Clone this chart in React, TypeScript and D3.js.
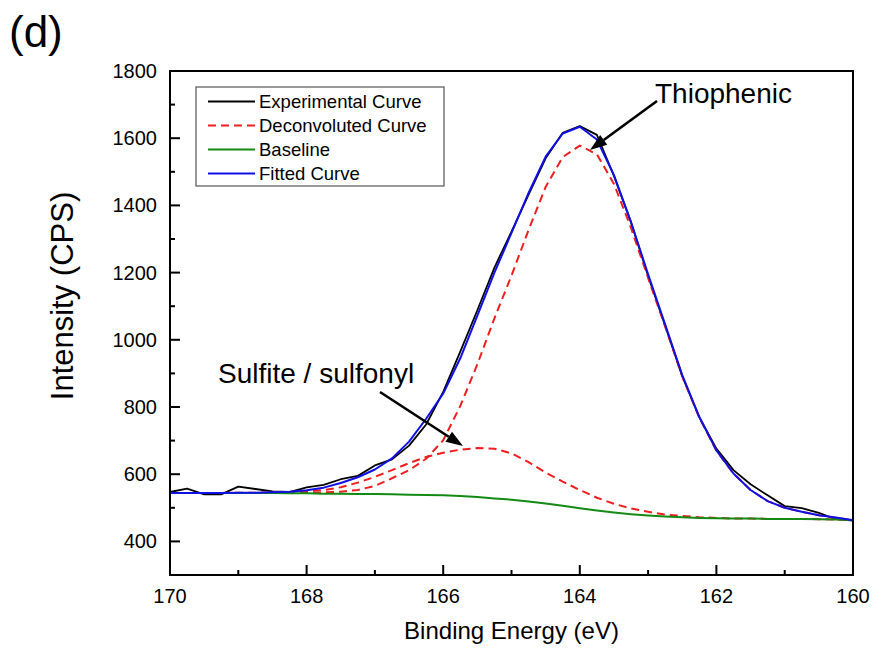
import React from "react";
import * as d3 from "d3";

const energy = [170, 169.75, 169.5, 169.25, 169, 168.75, 168.5, 168.25, 168, 167.75, 167.5, 167.25, 167, 166.75, 166.5, 166.25, 166, 165.75, 165.5, 165.25, 165, 164.75, 164.5, 164.25, 164, 163.75, 163.5, 163.25, 163, 162.75, 162.5, 162.25, 162, 161.75, 161.5, 161.25, 161, 160.75, 160.5, 160.25, 160];

const experimental = [547, 557, 540, 540, 563, 556, 549, 547, 561, 568, 585, 595, 626, 644, 685, 748, 845, 965, 1088, 1215, 1322, 1432, 1540, 1616, 1636, 1610, 1488, 1350, 1190, 1042, 892, 770, 676, 612, 570, 537, 505, 499, 485, 466, 462];

const thiophenic = [544, 544, 544, 544, 544, 544, 544, 544, 545, 546, 548, 553, 565, 588, 612, 646, 701, 803, 927, 1064, 1191, 1327, 1455, 1544, 1578, 1552, 1464, 1333, 1184, 1039, 891, 768, 670, 602, 553, 520, 500, 488, 478, 470, 463];

const sulfite = [544, 544, 544, 544, 545, 545, 546, 547, 549, 553, 561, 575, 592, 612, 633, 651, 664, 673, 678, 676, 662, 636, 605, 578, 553, 530, 512, 498, 488, 480, 476, 472, 470, 468, 468, 467, 467, 467, 466, 465, 464];

const baseline = [544, 544, 544, 544, 544, 544, 544, 543, 543, 542, 542, 541, 541, 540, 539, 538, 537, 535, 532, 528, 524, 519, 513, 506, 499, 492, 486, 481, 477, 474, 472, 470, 469, 468, 468, 467, 467, 467, 466, 465, 464];

const fitted = [544, 544, 544, 544, 545, 545, 546, 548, 552, 560, 574, 591, 614, 647, 697, 765, 840, 945, 1072, 1200, 1318, 1437, 1545, 1614, 1634, 1596, 1490, 1350, 1195, 1045, 895, 770, 671, 602, 553, 520, 500, 488, 478, 471, 463];

const xMajorTicks = [170, 168, 166, 164, 162, 160];
const xMinorTicks = [169, 167, 165, 163, 161];
const yMajorTicks = [400, 600, 800, 1000, 1200, 1400, 1600, 1800];
const yMinorTicks = [500, 700, 900, 1100, 1300, 1500, 1700];

const legendItems = [
  { label: "Experimental Curve", color: "#000000", dash: "" },
  { label: "Deconvoluted Curve", color: "#f01e1e", dash: "8,5" },
  { label: "Baseline", color: "#138a13", dash: "" },
  { label: "Fitted Curve", color: "#1010e6", dash: "" },
];

const W = 875;
const H = 648;
const L = 170;
const R = 853;
const T = 71;
const B = 575;
const FONT = "'Liberation Sans', Arial, Helvetica, sans-serif";

export default function App() {
  const x = d3.scaleLinear().domain([170, 160]).range([L, R]);
  const y = d3.scaleLinear().domain([300, 1800]).range([B, T]);

  const mk = (vals: number[]) =>
    d3
      .line<number>()
      .x((_, i) => x(energy[i]))
      .y((v) => y(v))(vals) || "";

  const arrow = (x1: number, y1: number, x2: number, y2: number) => {
    const ang = Math.atan2(y2 - y1, x2 - x1);
    const len = 17;
    const w = 6;
    const bx = x2 - len * Math.cos(ang);
    const by = y2 - len * Math.sin(ang);
    const px = -Math.sin(ang) * w;
    const py = Math.cos(ang) * w;
    return (
      <g>
        <line x1={x1} y1={y1} x2={bx} y2={by} stroke="#000" strokeWidth={2.6} />
        <polygon
          points={`${x2},${y2} ${bx + px},${by + py} ${bx - px},${by - py}`}
          fill="#000"
        />
      </g>
    );
  };

  return (
    <svg
      width={W}
      height={H}
      style={{ position: "absolute", left: 0, top: 0, background: "#fff" }}
      fontFamily={FONT}
    >
      <rect x={0} y={0} width={W} height={H} fill="#fff" />
      <text x={9} y={47} fontSize={44}>(d)</text>

      {/* curves */}
      <g fill="none" strokeLinejoin="round">
        <path d={mk(experimental)} stroke="#000" strokeWidth={1.8} />
        <path d={mk(sulfite)} stroke="#f01e1e" strokeWidth={2} strokeDasharray="8,5" />
        <path d={mk(thiophenic)} stroke="#f01e1e" strokeWidth={2} strokeDasharray="8,5" />
        <path d={mk(baseline)} stroke="#138a13" strokeWidth={2} />
        <path d={mk(fitted)} stroke="#1010e6" strokeWidth={2} />
      </g>

      {/* frame */}
      <rect x={L} y={T} width={R - L} height={B - T} fill="none" stroke="#000" strokeWidth={2} />

      {/* x ticks */}
      {xMajorTicks.map((t) => (
        <g key={"xm" + t}>
          <line x1={x(t)} x2={x(t)} y1={B} y2={B - 10} stroke="#000" strokeWidth={2} />
          <text x={x(t)} y={603} fontSize={20} textAnchor="middle">{t}</text>
        </g>
      ))}
      {xMinorTicks.map((t) => (
        <line key={"xn" + t} x1={x(t)} x2={x(t)} y1={B} y2={B - 5} stroke="#000" strokeWidth={2} />
      ))}

      {/* y ticks */}
      {yMajorTicks.map((t) => (
        <g key={"ym" + t}>
          <line x1={L} x2={L + 10} y1={y(t)} y2={y(t)} stroke="#000" strokeWidth={2} />
          <text x={157} y={y(t) + 7} fontSize={20} textAnchor="end">{t}</text>
        </g>
      ))}
      {yMinorTicks.map((t) => (
        <line key={"yn" + t} x1={L} x2={L + 5} y1={y(t)} y2={y(t)} stroke="#000" strokeWidth={2} />
      ))}

      {/* axis titles */}
      <text x={(L + R) / 2} y={639} fontSize={24} textAnchor="middle">Binding Energy (eV)</text>
      <text
        transform={`translate(73, 296) rotate(-90)`}
        fontSize={31}
        textAnchor="middle"
      >
        Intensity (CPS)
      </text>

      {/* legend */}
      <rect x={196} y={87} width={248} height={99} fill="#fff" stroke="#555" strokeWidth={1.2} />
      {legendItems.map((it, i) => {
        const cy = 101.5 + i * 24;
        return (
          <g key={it.label}>
            <line
              x1={208}
              x2={255}
              y1={cy}
              y2={cy}
              stroke={it.color}
              strokeWidth={2}
              strokeDasharray={it.dash || undefined}
            />
            <text x={259} y={cy + 6.5} fontSize={18.5}>{it.label}</text>
          </g>
        );
      })}

      {/* annotations */}
      <text x={655} y={103} fontSize={28}>Thiophenic</text>
      {arrow(657, 101, 590, 150)}
      <text x={218} y={383} fontSize={28}>Sulfite / sulfonyl</text>
      {arrow(380, 392, 463, 446)}
    </svg>
  );
}
